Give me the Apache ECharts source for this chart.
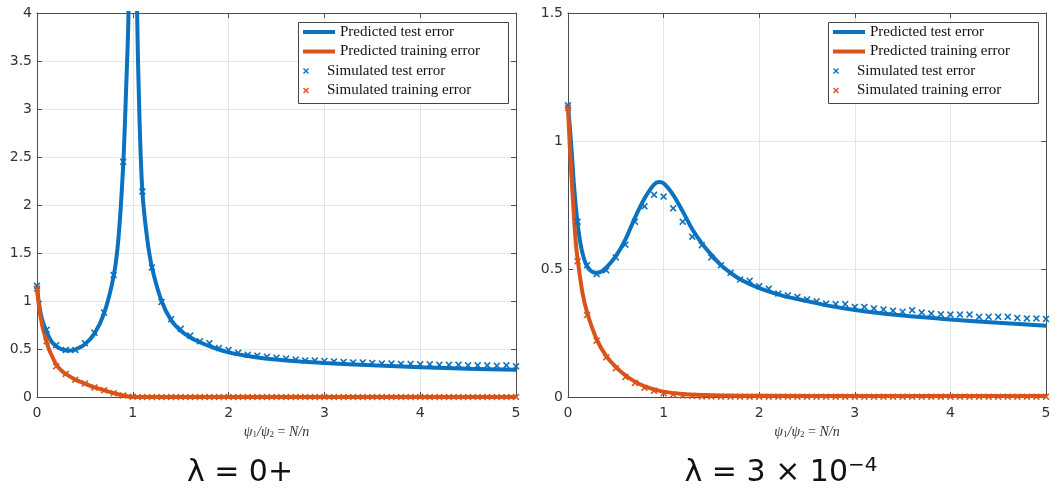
<!DOCTYPE html>
<html><head><meta charset="utf-8">
<script src="https://cdn.jsdelivr.net/npm/echarts@6/dist/echarts.min.js"></script>
<style>html,body{margin:0;padding:0;background:#fff}#c{width:1062px;height:492px}</style>
</head><body><div id="c"></div>
<script>
// ---------- data ----------
const xTicks = [0, 1, 2, 3, 4, 5];
const simX = [0,0.1,0.2,0.3,0.4,0.5,0.6,0.7,0.8,0.9,1.0,1.1,1.2,1.3,1.4,1.5,1.6,1.7,1.8,1.9,2.0,2.1,2.2,2.3,2.4,2.5,2.6,2.7,2.8,2.9,3.0,3.1,3.2,3.3,3.4,3.5,3.6,3.7,3.8,3.9,4.0,4.1,4.2,4.3,4.4,4.5,4.6,4.7,4.8,4.9,5.0];

// Left panel: lambda = 0+
const leftSimTest = [1.16,0.70,0.54,0.49,0.49,0.56,0.67,0.88,1.27,2.45,12,2.14,1.35,0.99,0.81,0.71,0.64,0.58,0.56,0.51,0.49,0.46,0.44,0.43,0.42,0.41,0.40,0.39,0.38,0.38,0.375,0.37,0.365,0.36,0.36,0.355,0.35,0.35,0.345,0.345,0.34,0.34,0.335,0.335,0.335,0.33,0.33,0.33,0.325,0.33,0.32];
const leftSimTrain = [1.13,0.58,0.32,0.24,0.18,0.14,0.10,0.07,0.04,0.015,0.003,0,0,0,0,0,0,0,0,0,0,0,0,0,0,0,0,0,0,0,0,0,0,0,0,0,0,0,0,0,0,0,0,0,0,0,0,0,0,0,0];
const leftPredTestX = [0,0.02,0.05,0.1,0.15,0.2,0.25,0.3,0.35,0.4,0.5,0.6,0.7,0.8,0.85,0.9,0.93,0.955,0.975,0.99,1.01,1.025,1.045,1.07,1.1,1.15,1.2,1.3,1.4,1.5,1.6,1.7,1.8,2.0,2.25,2.5,2.75,3.0,3.5,4.0,4.5,5.0];
const leftPredTest = [1.15,0.98,0.82,0.68,0.58,0.53,0.50,0.485,0.485,0.495,0.55,0.66,0.87,1.26,1.65,2.42,3.2,4.0,6.5,15,15,6.5,4.0,2.9,2.14,1.65,1.35,1.0,0.80,0.69,0.62,0.57,0.53,0.465,0.42,0.39,0.37,0.355,0.33,0.31,0.295,0.285];
const leftPredTrainX = [0,0.02,0.04,0.06,0.09,0.12,0.15,0.2,0.25,0.3,0.4,0.5,0.6,0.7,0.8,0.9,0.95,1.0,5.0];
const leftPredTrain = [1.13,0.95,0.82,0.72,0.61,0.51,0.44,0.34,0.28,0.24,0.18,0.14,0.10,0.07,0.04,0.015,0.005,0,0];

// Right panel: lambda = 3e-4
const rightSimTest = [1.14,0.685,0.515,0.48,0.495,0.545,0.595,0.685,0.745,0.79,0.783,0.737,0.685,0.626,0.593,0.545,0.515,0.485,0.459,0.454,0.433,0.423,0.404,0.397,0.391,0.381,0.374,0.365,0.363,0.363,0.352,0.352,0.346,0.342,0.337,0.333,0.339,0.33,0.326,0.323,0.322,0.322,0.322,0.313,0.313,0.313,0.313,0.309,0.307,0.307,0.305];
const rightSimTrain = [1.13,0.53,0.32,0.22,0.155,0.112,0.078,0.055,0.036,0.024,0.015,0.01,0.006,0.004,0.002,0.002,0.001,0.001,0.001,0.001,0.001,0.001,0.001,0.001,0.001,0.001,0.001,0.001,0.001,0.001,0.001,0.001,0.001,0.001,0.001,0.001,0.001,0.001,0.001,0.001,0.001,0.001,0.001,0.001,0.001,0.001,0.001,0.001,0.001,0.001,0.001];
const rightPredTestX = [0,0.02,0.04,0.06,0.08,0.1,0.13,0.16,0.2,0.25,0.3,0.35,0.4,0.5,0.6,0.7,0.8,0.9,0.95,1.0,1.1,1.2,1.3,1.4,1.5,1.6,1.7,1.8,2.0,2.25,2.5,2.75,3.0,3.5,4.0,4.5,5.0];
const rightPredTest = [1.14,1.05,0.95,0.84,0.75,0.68,0.60,0.55,0.51,0.49,0.485,0.49,0.505,0.55,0.615,0.70,0.775,0.83,0.84,0.835,0.79,0.725,0.655,0.60,0.555,0.515,0.485,0.46,0.425,0.395,0.375,0.355,0.34,0.318,0.303,0.29,0.278];
const rightPredTrainX = [0,0.02,0.04,0.06,0.08,0.1,0.15,0.2,0.3,0.4,0.5,0.6,0.7,0.8,0.9,1.0,1.2,1.5,2.0,3.0,4.0,5.0];
const rightPredTrain = [1.13,0.97,0.84,0.72,0.61,0.54,0.41,0.33,0.225,0.16,0.118,0.085,0.06,0.042,0.03,0.021,0.012,0.007,0.005,0.004,0.004,0.004];

const names = ['Predicted test error','Predicted training error','Simulated test error','Simulated training error'];
const captions = ['λ = 0+', 'λ = 3 × 10'];
const captionSup = '−4';

// ---------- styling ----------
const BLUE = '#0a72c0', ORANGE = '#d9541a';
const AXIS = '#4d4d4d', GRIDC = '#e1e6ec';
const CROSS = 'path://M0,1.6L1.6,0L5,3.4L8.4,0L10,1.6L6.6,5L10,8.4L8.4,10L5,6.6L1.6,10L0,8.4L3.4,5Z';
const pairs = (xs, ys) => xs.map((x, i) => [x, ys[i]]);

const grids = [
  {left: 37, top: 13, width: 479, height: 384, outerBoundsMode: 'none'},
  {left: 568, top: 13, width: 478, height: 384, outerBoundsMode: 'none'}
];
const yMax = [4, 1.5];
const yInt = [0.5, 0.5];

const xAxes = [], yAxes = [];
grids.forEach((g, gi) => {
  const base = {type: 'value', gridIndex: gi, min: 0, max: 5, interval: 1,
    axisLine: {show: true, onZero: false, lineStyle: {color: AXIS, width: 1}},
    axisTick: {show: true, inside: true, length: 5, lineStyle: {color: AXIS}}};
  xAxes.push(Object.assign({}, base, {position: 'bottom',
    axisLabel: {show: true, margin: 9, color: '#333', fontFamily: 'DejaVu Sans', fontSize: 14,
      showMinLabel: true, showMaxLabel: true, formatter: v => xTicks.includes(v) ? String(v) : ''},
    splitLine: {show: true, lineStyle: {color: GRIDC, width: 1}},
    name: '{i|ψ}{s|1}{i|/ψ}{s|2}{r| = }{i|N/n}', nameLocation: 'middle', nameGap: 26,
    nameTextStyle: {color: '#333', rich: {
      i: {fontFamily: 'Liberation Serif', fontStyle: 'italic', fontSize: 14, color: '#333'},
      s: {fontFamily: 'Liberation Serif', fontSize: 9, color: '#333', verticalAlign: 'bottom', padding: [6, 0, 0, 0]},
      r: {fontFamily: 'Liberation Serif', fontSize: 14, color: '#333'}}}}));
  xAxes.push(Object.assign({}, base, {position: 'top', axisLabel: {show: false}, splitLine: {show: false}}));
  const ybase = {type: 'value', gridIndex: gi, min: 0, max: yMax[gi], interval: yInt[gi],
    axisLine: {show: true, onZero: false, lineStyle: {color: AXIS, width: 1}},
    axisTick: {show: true, inside: true, length: 5, lineStyle: {color: AXIS}}};
  yAxes.push(Object.assign({}, ybase, {position: 'left',
    axisLabel: {show: true, margin: 5, color: '#333', fontFamily: 'DejaVu Sans', fontSize: 14,
      showMinLabel: true, showMaxLabel: true},
    splitLine: {show: true, lineStyle: {color: GRIDC, width: 1}}}));
  yAxes.push(Object.assign({}, ybase, {position: 'right', axisLabel: {show: false}, splitLine: {show: false}}));
});

function panelSeries(gi, pTestX, pTest, pTrainX, pTrain, sTest, sTrain) {
  const ax = {xAxisIndex: gi * 2, yAxisIndex: gi * 2};
  return [
    Object.assign({name: names[0], type: 'line', data: pairs(pTestX, pTest), symbol: 'none', showSymbol: false,
      smooth: 0.3, lineStyle: {color: BLUE, width: 4}, itemStyle: {color: BLUE}, z: 2, clip: true}, ax),
    Object.assign({name: names[1], type: 'line', data: pairs(pTrainX, pTrain), symbol: 'none', showSymbol: false,
      smooth: 0.3, lineStyle: {color: ORANGE, width: 4}, itemStyle: {color: ORANGE}, z: 2, clip: true}, ax),
    Object.assign({name: names[2], type: 'scatter', data: pairs(simX, sTest), symbol: CROSS, symbolSize: 7,
      itemStyle: {color: BLUE, opacity: 1}, z: 3, clip: true}, ax),
    Object.assign({name: names[3], type: 'scatter', data: pairs(simX, sTrain), symbol: CROSS, symbolSize: 7,
      itemStyle: {color: ORANGE, opacity: 1}, z: 3, clip: true}, ax)
  ];
}

const series = [].concat(
  panelSeries(0, leftPredTestX, leftPredTest, leftPredTrainX, leftPredTrain, leftSimTest, leftSimTrain),
  panelSeries(1, rightPredTestX, rightPredTest, rightPredTrainX, rightPredTrain, rightSimTest, rightSimTrain)
);

const legTxt = {fontFamily: 'Liberation Serif', fontSize: 15, color: '#111', lineHeight: 19.5};
const legends = [];
const legendLeft = [303, 833];
legendLeft.forEach(lx => {
  legends.push({orient: 'vertical', left: lx, top: 22.25, padding: 0, itemGap: 0, itemWidth: 32, itemHeight: 4,
    selectedMode: false, textStyle: legTxt, z: 6,
    data: [{name: names[0], icon: 'rect'}, {name: names[1], icon: 'rect'}]});
  legends.push({orient: 'vertical', left: lx, top: 61.25, padding: 0, itemGap: 0, itemWidth: 32, itemHeight: 6,
    selectedMode: false, textStyle: legTxt, z: 6, symbolKeepAspect: true,
    data: [{name: names[2], icon: CROSS}, {name: names[3], icon: CROSS}]});
});

const graphic = [
  {type: 'rect', z: 5, shape: {x: 298.5, y: 22.5, width: 210, height: 81}, style: {fill: '#fff', stroke: '#444', lineWidth: 1}},
  {type: 'rect', z: 5, shape: {x: 828.5, y: 22.5, width: 210, height: 81}, style: {fill: '#fff', stroke: '#444', lineWidth: 1}},
  {type: 'text', z: 5, x: 240, y: 473, style: {text: captions[0], textAlign: 'center', textVerticalAlign: 'middle',
    font: '30px "DejaVu Sans"', fill: '#111'}},
  {type: 'text', z: 5, x: 781, y: 473, style: {text: '{m|' + captions[1] + '}{p|' + captionSup + '}', textAlign: 'center', textVerticalAlign: 'middle',
    fill: '#111', rich: {
      m: {fontFamily: 'DejaVu Sans', fontSize: 30, lineHeight: 34, fill: '#111'},
      p: {fontFamily: 'DejaVu Sans', fontSize: 20, lineHeight: 34, verticalAlign: 'top', fill: '#111'}}}}
];

const chart = echarts.init(document.getElementById('c'), null, {renderer: 'canvas'});
chart.setOption({
  animation: false,
  backgroundColor: '#fff',
  grid: grids,
  xAxis: xAxes,
  yAxis: yAxes,
  legend: legends,
  series: series,
  graphic: graphic
});
</script>
</body></html>
